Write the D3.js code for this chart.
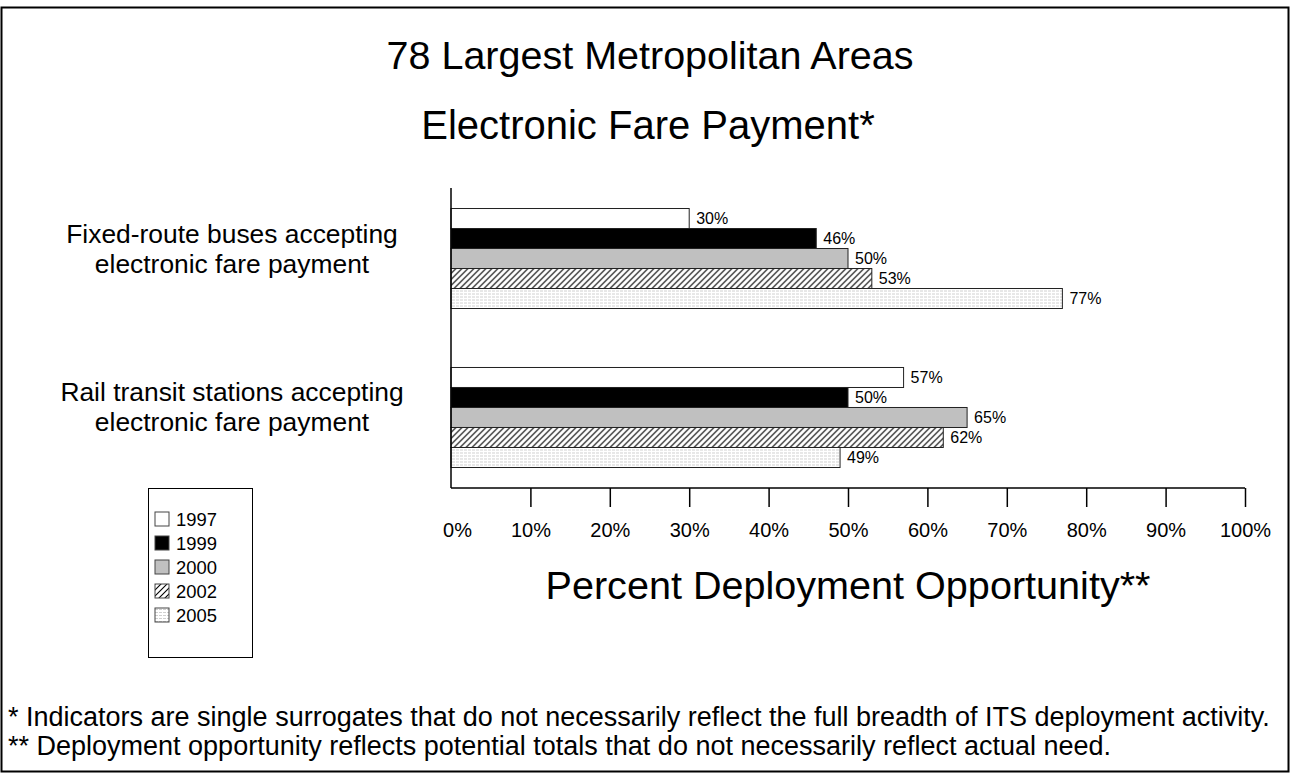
<!DOCTYPE html>
<html>
<head>
<meta charset="utf-8">
<script src="https://cdn.jsdelivr.net/npm/d3@7"></script>
<style>
  body { margin: 0; background: #fff; }
  svg text { font-family: Arial, "Liberation Sans", sans-serif; fill: #000; }
</style>
</head>
<body>
<div id="chart"></div>
<script>
// chart values
const categories = ["bus", "rail"];
const categoryLabels = [
    ["Fixed-route buses accepting", "electronic fare payment"],
    ["Rail transit stations accepting", "electronic fare payment"]
];
const years = ["1997", "1999", "2000", "2002", "2005"];
const busValues = [30, 46, 50, 53, 77];
const railValues = [57, 50, 65, 62, 49];
const xTicks = [0, 10, 20, 30, 40, 50, 60, 70, 80, 90, 100];
const footnotes = [
    "* Indicators are single surrogates that do not necessarily reflect the full breadth of ITS deployment activity.",
    "** Deployment opportunity reflects potential totals that do not necessarily reflect actual need."
];

const width = 1291, height = 774;
const plotLeft = 451, plotRight = 1245, plotTop = 188, plotBottom = 488;

var svg = d3.select('#chart')
    .append('svg')
    .attr('width', width)
    .attr('height', height)

// fills
var defs = svg.append('defs');
var hatch = defs.append('pattern')
    .attr('id', 'hatch')
    .attr('patternUnits', 'userSpaceOnUse')
    .attr('width', 6).attr('height', 6);
hatch.append('rect').attr('width', 6).attr('height', 6).attr('fill', '#fff');
hatch.append('path')
    .attr('d', 'M0,6 L6,0 M-1.5,1.5 L1.5,-1.5 M4.5,7.5 L7.5,4.5')
    .attr('stroke', '#000').attr('stroke-width', 1.1);

var dots = defs.append('pattern')
    .attr('id', 'dots')
    .attr('patternUnits', 'userSpaceOnUse')
    .attr('width', 4).attr('height', 3);
dots.append('rect').attr('width', 4).attr('height', 3).attr('fill', '#fff');
dots.append('rect').attr('x', 0).attr('y', 1).attr('width', 3).attr('height', 1).attr('fill', '#d0d0d0');

const fills = ['#ffffff', '#000000', '#c0c0c0', 'url(#hatch)', 'url(#dots)'];

// scales
var x = d3.scaleLinear().domain([0, 100]).range([plotLeft, plotRight]);
var y = d3.scaleBand().domain(categories).range([plotTop, plotBottom])
    .paddingInner(0.371).paddingOuter(0.129);
var yInner = d3.scaleBand().domain(years).range([0, y.bandwidth()]);
var color = d3.scaleOrdinal().domain(years).range(fills);

// outer frame
svg.append('rect')
    .attr('x', 1.5).attr('y', 7.5)
    .attr('width', 1287).attr('height', 764)
    .attr('fill', 'none').attr('stroke', '#000').attr('stroke-width', 2);

// titles
svg.append('text').attr('x', 650).attr('y', 69)
    .attr('text-anchor', 'middle').style('font-size', '39.5px')
    .text('78 Largest Metropolitan Areas');
svg.append('text').attr('x', 648).attr('y', 139)
    .attr('text-anchor', 'middle').style('font-size', '40px')
    .text('Electronic Fare Payment*');

// bars
var rows = [busValues, railValues];
categories.forEach(function(c, ci) {
    var g = svg.append('g').attr('class', 'item')
        .attr('transform', 'translate(0,' + y(c) + ')');
    var data = years.map(function(yr, i) { return {year: yr, value: rows[ci][i]}; });
    g.selectAll('rect').data(data).enter().append('rect')
        .attr('x', x(0))
        .attr('y', function(d) { return yInner(d.year); })
        .attr('width', function(d) { return x(d.value) - x(0); })
        .attr('height', yInner.bandwidth())
        .style('fill', function(d) { return color(d.year); })
        .style('stroke', '#222').style('stroke-width', 1);
    g.selectAll('text.val').data(data).enter().append('text')
        .attr('class', 'val')
        .attr('x', function(d) { return x(d.value) + 7; })
        .attr('y', function(d) { return yInner(d.year) + yInner.bandwidth() / 2; })
        .attr('dy', '0.36em')
        .style('font-size', '16px')
        .text(function(d) { return d.value + '%'; });

    // category label
    var lbl = svg.append('text')
        .attr('text-anchor', 'middle')
        .style('font-size', '26.4px');
    categoryLabels[ci].forEach(function(line, li) {
        lbl.append('tspan')
            .attr('x', 232)
            .attr('y', y(c) + y.bandwidth() / 2 - 16 + li * 30)
            .text(line);
    });
});

// axes
svg.append('line')
    .attr('x1', x(0)).attr('x2', x(0)).attr('y1', plotTop).attr('y2', plotBottom)
    .attr('stroke', '#000').attr('stroke-width', 1.5);
var xAxis = svg.append('g')
    .attr('transform', 'translate(0,' + plotBottom + ')')
    .call(d3.axisBottom(x).tickValues(xTicks).tickSize(19).tickPadding(16)
        .tickFormat(function(d) { return d + '%'; }));
xAxis.select('.domain').attr('stroke', '#000').attr('stroke-width', 1.5)
    .attr('d', 'M' + x(0) + ',0H' + x(100));
xAxis.selectAll('.tick line').attr('stroke', '#000').attr('stroke-width', 1.5)
    .filter(function(d) { return d === 0; }).remove();
xAxis.selectAll('.tick text').style('font-size', '20px')
    .style('font-family', 'Arial, "Liberation Sans", sans-serif')
    .attr('dx', function(d) { return d === 0 ? 6 : 0; });

svg.append('text').attr('x', 848).attr('y', 599)
    .attr('text-anchor', 'middle').style('font-size', '39.6px')
    .text('Percent Deployment Opportunity**');

// legend
var legend = svg.append('g');
legend.append('rect')
    .attr('x', 148.5).attr('y', 488.5).attr('width', 104).attr('height', 169)
    .attr('fill', '#fff').attr('stroke', '#000').attr('stroke-width', 1);
var li = legend.selectAll('g.li').data(years).enter().append('g')
    .attr('transform', function(d, i) { return 'translate(155,' + (512 + i * 24) + ')'; });
li.append('rect').attr('width', 14).attr('height', 14)
    .style('fill', function(d) { return color(d); })
    .style('stroke', '#444').style('stroke-width', 1);
li.append('text').attr('x', 21).attr('y', 7).attr('dy', '0.36em')
    .style('font-size', '18.4px')
    .text(function(d) { return d; });

// footnotes
svg.selectAll('text.note').data(footnotes).enter().append('text')
    .attr('class', 'note')
    .attr('x', 8)
    .attr('y', function(d, i) { return 726 + i * 29; })
    .style('font-size', '27px')
    .text(function(d) { return d; });
</script>
</body>
</html>
